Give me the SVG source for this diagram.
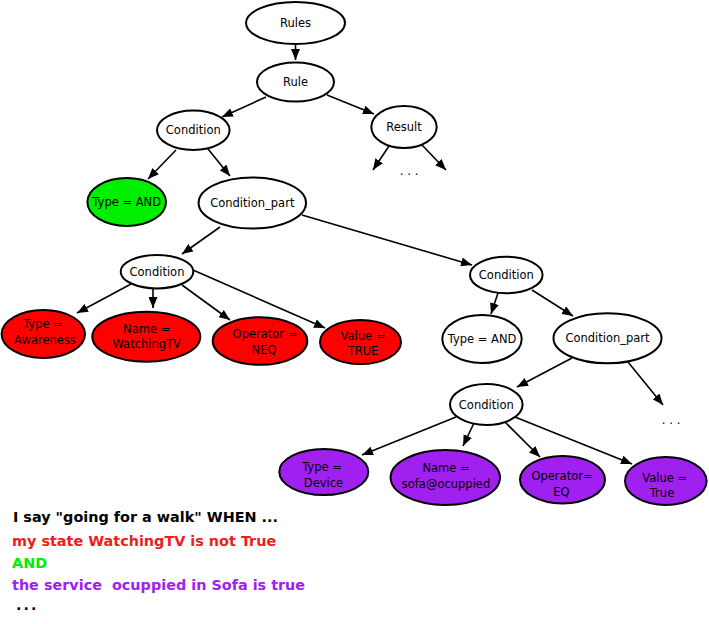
<svg xmlns="http://www.w3.org/2000/svg" width="709" height="624" viewBox="0 0 709 624">
<style>
.n ellipse{stroke:#000;stroke-width:2;fill:#fff}
.n.red ellipse{fill:#ff0000}
.n.grn ellipse{fill:#00ee00}
.n.pur ellipse{fill:#a020f0}
.n text,.dots{font-family:"DejaVu Sans",Verdana,sans-serif;font-size:11.5px;fill:#000;text-anchor:middle}
.dots{letter-spacing:3.8px}
#edges line{stroke:#000;stroke-width:1.6;marker-end:url(#ah)}
.b{font-family:"DejaVu Sans",Verdana,sans-serif;font-size:14.4px;font-weight:bold}
</style>
<defs>
<marker id="ah" markerUnits="userSpaceOnUse" markerWidth="11" markerHeight="9" refX="11" refY="4.5" orient="auto">
<path d="M0,0 L11,4.5 L0,9 z" fill="#000"/>
</marker>
</defs>
<g id="edges">
<line x1="295.5" y1="44" x2="295.5" y2="60"/>
<line x1="266" y1="97" x2="222" y2="117"/>
<line x1="327" y1="95" x2="374" y2="114"/>
<line x1="176" y1="150" x2="148" y2="179"/>
<line x1="208" y1="149" x2="230" y2="176"/>
<line x1="389" y1="146" x2="373" y2="170"/>
<line x1="422" y1="145" x2="446" y2="170"/>
<line x1="220" y1="227" x2="182" y2="254"/>
<line x1="302" y1="215" x2="472" y2="265"/>
<line x1="131" y1="284" x2="77" y2="313"/>
<line x1="153" y1="289" x2="153" y2="308"/>
<line x1="182" y1="285" x2="230" y2="320"/>
<line x1="193" y1="270" x2="325" y2="328"/>
<line x1="498" y1="293" x2="491" y2="314"/>
<line x1="532" y1="290" x2="573" y2="316"/>
<line x1="572" y1="358" x2="517" y2="387"/>
<line x1="628" y1="362" x2="663" y2="405"/>
<line x1="456" y1="417" x2="362" y2="455"/>
<line x1="474" y1="423" x2="463" y2="446"/>
<line x1="504" y1="421" x2="540" y2="457"/>
<line x1="515" y1="417" x2="632" y2="464"/>
</g>
<g id="rules" class="n"><ellipse cx="295.5" cy="23" rx="49.5" ry="21"/><text x="295.5" y="27">Rules</text></g>
<g id="rule" class="n"><ellipse cx="295.5" cy="82" rx="38.5" ry="19.5"/><text x="295.5" y="86">Rule</text></g>
<g id="condition1" class="n"><ellipse cx="193.3" cy="130.3" rx="36.3" ry="19.7"/><text x="193.3" y="134.3">Condition</text></g>
<g id="result" class="n"><ellipse cx="404" cy="127" rx="32.7" ry="21"/><text x="404" y="131">Result</text></g>
<text class="dots" x="411" y="175">...</text>
<g id="type-and1" class="n grn"><ellipse cx="126.7" cy="202" rx="39.3" ry="24"/><text x="126.7" y="206">Type = AND</text></g>
<g id="condition-part1" class="n"><ellipse cx="252.3" cy="203" rx="53.7" ry="25.5"/><text x="252.3" y="207">Condition_part</text></g>
<g id="condition2" class="n"><ellipse cx="157" cy="271.7" rx="36.3" ry="16.7"/><text x="157" y="275.7">Condition</text></g>
<g id="type-awareness" class="n red"><ellipse cx="43.3" cy="334" rx="41.7" ry="24"/><text x="43" y="328">Type =</text><text x="45" y="343.5">Awareness</text></g>
<g id="name-watchingtv" class="n red"><ellipse cx="146.3" cy="336.7" rx="54" ry="25"/><text x="146.7" y="332.5">Name =</text><text x="146.7" y="347.5">WatchingTV</text></g>
<g id="operator-neq" class="n red"><ellipse cx="260" cy="341" rx="47.3" ry="23.8"/><text x="265" y="338">Operator =</text><text x="264" y="353.5">NEQ</text></g>
<g id="value-true" class="n red"><ellipse cx="360.5" cy="342" rx="40.5" ry="22"/><text x="363" y="340">Value =</text><text x="363" y="355">TRUE</text></g>
<g id="condition3" class="n"><ellipse cx="506.3" cy="275" rx="36.3" ry="18.3"/><text x="506.3" y="279">Condition</text></g>
<g id="type-and2" class="n"><ellipse cx="482" cy="339" rx="39.7" ry="24"/><text x="482" y="343">Type = AND</text></g>
<g id="condition-part2" class="n"><ellipse cx="607.5" cy="338.3" rx="54" ry="25"/><text x="607.5" y="342.3">Condition_part</text></g>
<text class="dots" x="673" y="424">...</text>
<g id="condition4" class="n"><ellipse cx="486.3" cy="404.5" rx="36.3" ry="20.5"/><text x="486.3" y="408.5">Condition</text></g>
<g id="type-device" class="n pur"><ellipse cx="323.8" cy="472" rx="44.5" ry="23"/><text x="322" y="471.3">Type =</text><text x="323.5" y="486.7">Device</text></g>
<g id="name-sofa" class="n pur"><ellipse cx="445.3" cy="477.5" rx="54.7" ry="27.5"/><text x="446" y="472.3">Name =</text><text x="446" y="488">sofa@ocuppied</text></g>
<g id="operator-eq" class="n pur"><ellipse cx="562.5" cy="479.7" rx="42.5" ry="23.7"/><text x="562" y="480">Operator=</text><text x="561.5" y="495.7">EQ</text></g>
<g id="value-true2" class="n pur"><ellipse cx="665.8" cy="481" rx="40.8" ry="24"/><text x="664.7" y="481.7">Value =</text><text x="662" y="497.3">True</text></g>
<text class="b" x="13" y="522" fill="#000">I say "going for a walk" WHEN ...</text>
<text class="b" x="12" y="546" fill="#ee1c1c">my state WatchingTV is not True</text>
<text class="b" x="12" y="568" fill="#00ee00">AND</text>
<text class="b" x="12" y="590" fill="#a020f0" xml:space="preserve">the service  ocuppied in Sofa is true</text>
<text class="b" x="16" y="610" fill="#000" style="letter-spacing:2px">...</text>
</svg>
